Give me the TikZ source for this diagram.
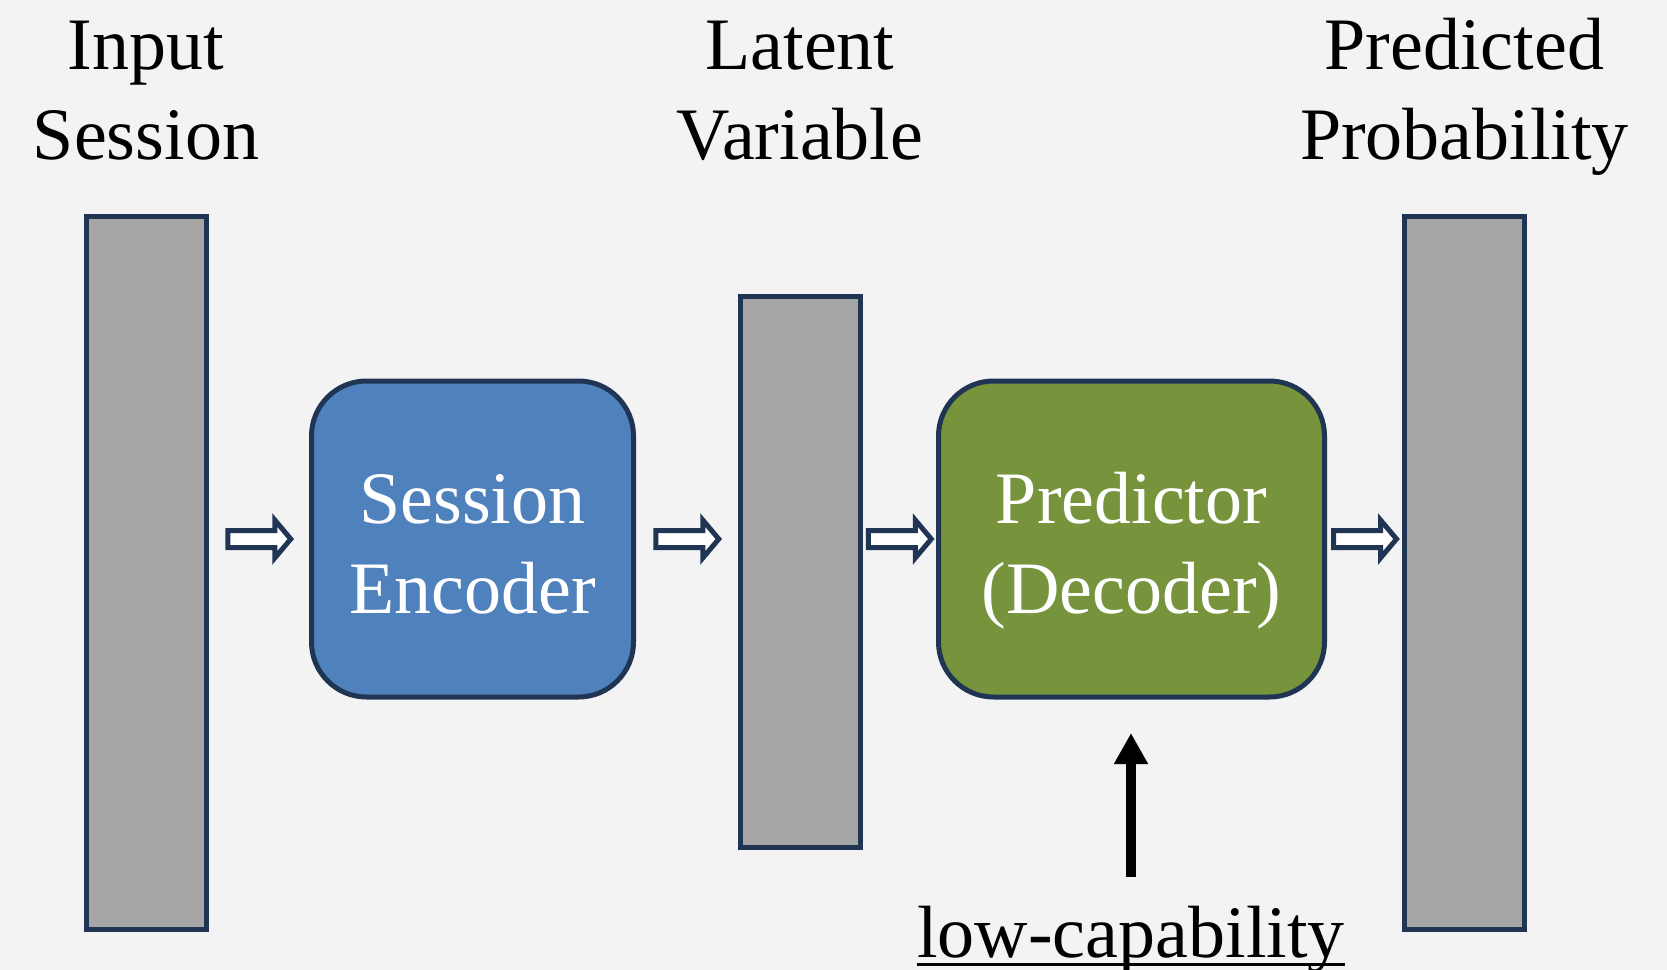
\documentclass[tikz,border=0pt]{standalone}
\usepackage{fontspec}
\setmainfont{Liberation Serif}
\usetikzlibrary{arrows.meta,calc}
\definecolor{bg}{HTML}{F3F3F3}
\definecolor{edge}{HTML}{1F3553}
\definecolor{barfill}{HTML}{A6A6A6}
\definecolor{encfill}{HTML}{4F81BD}
\definecolor{decfill}{HTML}{77933C}
\begin{document}
\begin{tikzpicture}[x=0.5pt,y=-0.5pt,
  bigtext/.style={font=\fontsize{37}{45}\selectfont, align=center, inner sep=0pt},
  bar/.style={draw=edge, line width=2.5pt, fill=barfill, minimum width=60pt, inner sep=0pt},
  block/.style={draw=edge, line width=2.5pt, rounded corners=27.5pt,
    minimum height=158pt, inner sep=0pt},
  blocktext/.style={bigtext, text=white, anchor=base},
  blockarrow/.pic={
    \draw[edge, line width=2.5pt, fill=white, line join=miter]
      (-31,-8.5) -- (16,-8.5) -- (16,-19) -- (32,0) -- (16,19) -- (16,8.5) -- (-31,8.5) -- cycle;
  }
]
% canvas
\fill[bg] (0,0) rectangle (1667,970);
\useasboundingbox (0,0) rectangle (1667,970);

% vectors
\node[bar, minimum height=356.5pt] (inbar)  at (146,572.5) {};
\node[bar, minimum height=275.5pt] (latbar) at (800,571.5) {};
\node[bar, minimum height=356.5pt] (outbar) at (1464.5,572.5) {};

% processing blocks
\node[block, fill=encfill, minimum width=161pt] (enc) at (472.5,539) {};
\node[block, fill=decfill, minimum width=193pt] (dec) at (1131.5,539) {};
\node[blocktext] (enctext) at ($(enc.center)+(0,74)$) {Session\\Encoder};
\node[blocktext] (dectext) at ($(dec.center)+(0,74)$) {Predictor\\(Decoder)};

% headings (base = last line)
\node[bigtext, anchor=base] (hin)  at (146,159.5)    {Input\\Session};
\node[bigtext, anchor=base] (hlat) at (800,159.5)    {Latent\\Variable};
\node[bigtext, anchor=base] (hout) at (1464.5,159.5) {Predicted\\Probability};

% hollow flow arrows between stages, level with the blocks
\coordinate (g1) at ($(inbar.east)!0.5!(enc.west)$);
\coordinate (g2) at ($(enc.east)!0.5!(latbar.west)$);
\coordinate (g3) at ($(latbar.east)!0.5!(dec.west)$);
\coordinate (g4) at ($(dec.east)!0.5!(outbar.west)$);
\pic at (g1 |- enc.west) {blockarrow};
\pic at (g2 |- enc.east) {blockarrow};
\pic at (g3 |- dec.west) {blockarrow};
\pic at (g4 |- dec.east) {blockarrow};

% capability note under the predictor
\node[bigtext, anchor=base] (cap) at (1131,957) {low-capability};
\draw[line width=1.5pt] ([yshift=-3.5pt]cap.base west) -- ([yshift=-3.5pt]cap.base east);
\coordinate (upfoot) at (1131,877);
\coordinate (uptip)  at (1131,733);
\draw[line width=5pt, -{Triangle[width=16pt,length=15.5pt]}] (upfoot) -- (uptip);
\end{tikzpicture}
\end{document}
